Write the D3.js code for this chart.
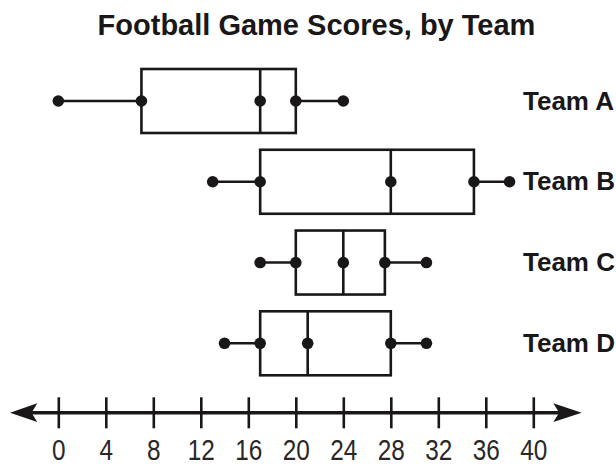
<!DOCTYPE html>
<html>
<head>
<meta charset="utf-8">
<script src="https://cdn.jsdelivr.net/npm/d3@7/dist/d3.min.js"></script>
<style>
  html, body { margin: 0; padding: 0; background: #fff; }
  svg { display: block; }
</style>
</head>
<body>
<svg id="chart" width="616" height="466"></svg>
<script>
// ---- data ----
const title = "Football Game Scores, by Team";
const teams = ["Team A", "Team B", "Team C", "Team D"];
const mins    = [0, 13, 17, 14];
const q1s     = [7, 17, 20, 17];
const medians = [17, 28, 24, 21];
const q3s     = [20, 35, 27.5, 28];
const maxs    = [24, 38, 31, 31];
const tickValues = [0, 4, 8, 12, 16, 20, 24, 28, 32, 36, 40];

// ---- layout ----
const ink = "#1a1718";
const svg = d3.select("#chart");
const x = d3.scaleLinear().domain([0, 40]).range([58.3, 533.3]);
const y = d3.scalePoint().domain(teams).range([101, 343.3]);
const boxHalf = 32;
const axisY = 412.7;

const rows = teams.map((t, i) => ({
  team: t, min: mins[i], q1: q1s[i], med: medians[i], q3: q3s[i], max: maxs[i]
}));

// title
svg.append("text")
  .attr("x", 316.5).attr("y", 35)
  .attr("text-anchor", "middle")
  .attr("font-family", "'Liberation Sans', Arial, sans-serif")
  .attr("font-weight", "bold")
  .attr("font-size", 29)
  .attr("fill", ink)
  .text(title);

// box plots
const g = svg.append("g");
const row = g.selectAll("g.row").data(rows).join("g").attr("class", "row");

// whiskers
row.append("line")
  .attr("x1", d => x(d.min)).attr("x2", d => x(d.q1))
  .attr("y1", d => y(d.team)).attr("y2", d => y(d.team))
  .attr("stroke", ink).attr("stroke-width", 2.6);
row.append("line")
  .attr("x1", d => x(d.q3)).attr("x2", d => x(d.max))
  .attr("y1", d => y(d.team)).attr("y2", d => y(d.team))
  .attr("stroke", ink).attr("stroke-width", 2.6);

// box
row.append("rect")
  .attr("x", d => x(d.q1)).attr("width", d => x(d.q3) - x(d.q1))
  .attr("y", d => y(d.team) - boxHalf).attr("height", boxHalf * 2)
  .attr("fill", "none").attr("stroke", ink).attr("stroke-width", 2.6);

// median line
row.append("line")
  .attr("x1", d => x(d.med)).attr("x2", d => x(d.med))
  .attr("y1", d => y(d.team) - boxHalf).attr("y2", d => y(d.team) + boxHalf)
  .attr("stroke", ink).attr("stroke-width", 2.6);

// dots
row.selectAll("circle")
  .data(d => [d.min, d.q1, d.med, d.q3, d.max].map(v => ({ v, team: d.team })))
  .join("circle")
  .attr("cx", d => x(d.v)).attr("cy", d => y(d.team))
  .attr("r", 5.8).attr("fill", ink);

// team labels
row.append("text")
  .attr("x", 523).attr("y", d => y(d.team) + 8.5)
  .attr("font-family", "'Liberation Sans', Arial, sans-serif")
  .attr("font-weight", "bold")
  .attr("font-size", 26)
  .attr("fill", ink)
  .text(d => d.team);

// number line
svg.append("line")
  .attr("x1", 25).attr("x2", 566)
  .attr("y1", axisY).attr("y2", axisY)
  .attr("stroke", ink).attr("stroke-width", 3.6);

// arrowheads
const leftTip = 10, rightTip = 581.7;
svg.append("path")
  .attr("d", `M${leftTip},${axisY} L${leftTip + 27.3},${axisY - 9.4} L${leftTip + 21.5},${axisY} L${leftTip + 27.3},${axisY + 9.4} Z`)
  .attr("fill", ink);
svg.append("path")
  .attr("d", `M${rightTip},${axisY} L${rightTip - 28.4},${axisY - 9.4} L${rightTip - 22.5},${axisY} L${rightTip - 28.4},${axisY + 9.4} Z`)
  .attr("fill", ink);

// ticks & labels via d3 axis
const axis = d3.axisBottom(x).tickValues(tickValues).tickSize(31).tickPadding(0).tickFormat(d3.format("d"));
const ag = svg.append("g").attr("transform", `translate(0,${397.3})`).call(axis);
ag.select(".domain").remove();
ag.selectAll(".tick line").attr("stroke", ink).attr("stroke-width", 2.6);
ag.selectAll(".tick text")
  .attr("y", 0).attr("dy", 0)
  .attr("transform", "translate(0,62.7) scale(0.84,1)")
  .attr("font-family", "'Liberation Sans', Arial, sans-serif")
  .attr("font-size", 29)
  .attr("fill", "#2a2728");
</script>
</body>
</html>
